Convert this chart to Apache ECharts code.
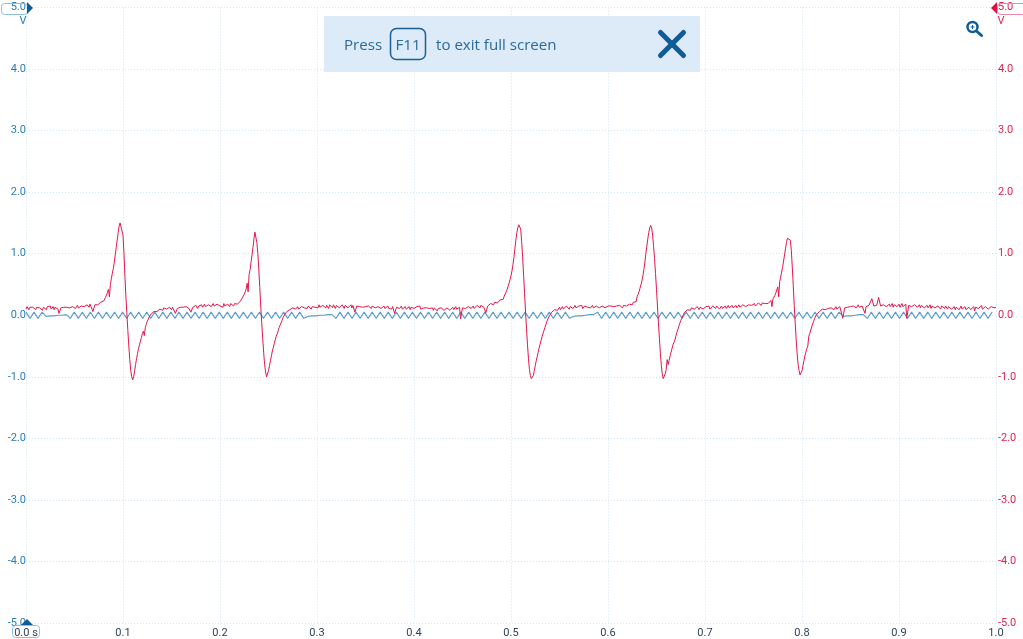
<!DOCTYPE html>
<html>
<head>
<meta charset="utf-8">
<style>html,body{margin:0;padding:0;background:#fff}#c{width:1023px;height:639px}</style>
<script src="https://cdn.jsdelivr.net/npm/echarts@6/dist/echarts.min.js"></script>
</head>
<body>
<div id="c"></div>
<script>
const timeTicks = ['0.0 s','0.1','0.2','0.3','0.4','0.5','0.6','0.7','0.8','0.9','1.0'];
const redStep = 0.001;
const redV = [
.10,.14,.12,.09,.13,.15,.11,.13,.10,.14,
.09,.13,.15,.10,.12,.14,.11,.08,.13,.15,
.12,.09,.14,.11,.13,.15,.10,.12,.14,.09,
.13,.11,.15,.10,.03,.02,.12,.14,.10,.13,
.14,.10,.13,.15,.11,.12,.15,.10,.14,.12,
.15,.11,.13,.16,.12,.14,.11,.15,.13,.16,
.14,.16,.13,.17,.15,.13,.18,.14,.17,.06,
.05,.17,.15,.19,.17,.20,.18,.21,.19,.22,
.23,.26,.29,.33,.37,.42,.30,.50,.60,.68,
.76,.86,.98,1.10,1.22,1.34,1.45,1.50,1.52,1.47,
1.30,1.0,.62,.30,.02,-.25,-.50,-.72,-.90,-1.0,
-1.05,-1.0,-.90,-.80,-.70,-.62,-.54,-.48,-.42,-.36,
-.30,-.26,-.33,-.20,-.15,-.10,-.07,-.03,0,.02,
.04,.02,.06,.05,.08,.06,.09,.07,.10,.08,
.11,.08,.12,.09,.13,.10,.12,.08,.13,.11,
.09,.13,.10,.14,.03,.02,.11,.14,.10,.13,
.14,.10,.13,.15,.11,.14,.12,.15,.11,.13,
.05,.04,.13,.15,.12,.16,.13,.11,.15,.12,
.14,.17,.13,.15,.18,.14,.16,.13,.17,.15,
.18,.14,.16,.19,.15,.17,.14,.18,.16,.19,
.15,.18,.16,.13,.19,.15,.17,.14,.18,.16,
.14,.19,.16,.18,.15,.19,.17,.20,.18,.21,
.20,.23,.25,.28,.31,.34,.38,.43,.52,.38,
.66,.74,.86,.98,1.10,1.24,1.35,1.32,1.18,1.00,
.75,.45,.15,-.12,-.38,-.60,-.80,-.92,-1.0,-.98,
-.90,-.82,-.74,-.66,-.58,-.52,-.46,-.40,-.34,-.30,
-.25,-.20,-.16,-.12,-.08,-.04,-.01,.02,.04,.06,
.08,.06,.09,.11,.08,.12,.09,.13,.10,.12,
.14,.10,.13,.09,.14,.11,.15,.12,.10,.14,
.11,.15,.12,.16,.10,.14,.12,.16,.13,.11,
.15,.12,.17,.13,.15,.11,.16,.13,.17,.12,
.16,.13,.11,.17,.14,.16,.12,.17,.14,.11,
.16,.13,.17,.12,.15,.13,.17,.14,.11,.16,
.13,.17,.12,.15,.14,.17,.12,.16,.14,.05,
.04,.15,.12,.16,.14,.11,.16,.13,.15,.12,
.14,.16,.12,.15,.13,.16,.11,.15,.13,.14,
.12,.15,.11,.14,.13,.16,.11,.14,.12,.15,
.11,.14,.12,.15,.11,.14,.13,.10,.14,.12,
.03,.02,.13,.10,.14,.11,.13,.15,.10,.13,
.11,.14,.10,.13,.11,.14,.09,.13,.11,.14,
.11,.13,.09,.14,.11,.12,.15,.10,.13,.09,
.12,.14,.10,.12,.09,.13,.11,.14,.10,.12,
.08,.12,.10,.13,.07,.11,.13,.09,.12,.10,
.13,.08,.11,.09,.12,.10,.13,.08,.11,.09,
.13,.09,.11,.14,.10,.12,.09,.13,-.06,-.04,
.12,.09,.14,.11,.13,.10,.14,.12,.15,.11,
.13,.15,.11,.14,.12,.16,.13,.15,.12,.16,
.14,.17,.13,.16,.04,.03,.15,.18,.15,.19,
.16,.19,.17,.21,.18,.22,.20,.23,.21,.25,
.24,.28,.26,.31,.34,.38,.42,.47,.52,.58,
.64,.72,.82,.94,1.08,1.22,1.34,1.42,1.47,1.48,
1.40,1.20,.95,.65,.35,.05,-.22,-.48,-.70,-.88,
-.98,-1.03,-1.05,-.98,-.90,-.82,-.74,-.67,-.60,-.53,
-.47,-.41,-.35,-.30,-.25,-.20,-.15,-.10,-.06,-.03,
0,.02,.05,.03,.07,.09,.07,.10,.08,.11,
.13,.09,.12,.14,.10,.13,.11,.15,.12,.14,
.10,.14,.12,.15,.11,.13,.16,.12,.14,.11,
.15,.12,.14,.16,.11,.13,.15,.12,.16,.13,
.11,.15,.12,.14,.16,.12,.14,.11,.15,.13,
.16,.12,.14,.11,.15,.13,.16,.12,.15,.13,
.15,.17,.13,.15,.12,.16,.14,.17,.13,.15,
.17,.13,.16,.14,.18,.12,.16,.14,.18,.15,
.17,.14,.18,.16,.20,.17,.21,.19,.24,.22,
.30,.34,.38,.44,.50,.56,.64,.74,.86,1.00,
1.12,1.24,1.34,1.42,1.46,1.42,1.30,1.12,.92,.68,
.42,.15,-.12,-.38,-.62,-.82,-.96,-1.03,-1.02,-.95,
-.88,-.72,-.80,-.74,-.66,-.60,-.54,-.48,-.44,-.40,
-.34,-.28,-.23,-.18,-.13,-.09,-.05,-.01,.02,.05,
.07,.05,.09,.06,.11,.08,.12,.09,.13,.10,
.13,.10,.14,.11,.09,.13,.11,.14,.10,.13,
.10,.14,.11,.13,.15,.10,.13,.11,.15,.12,
.14,.11,.15,.12,.14,.10,.13,.15,.11,.14,
.12,.15,.11,.14,.16,.12,.15,.13,.16,.12,
.15,.13,.16,.12,.15,.17,.13,.16,.14,.17,
.15,.18,.14,.16,.13,.17,.15,.18,.16,.14,
.17,.19,.15,.18,.16,.20,.17,.19,.16,.20,
.18,.21,.19,.17,.21,.19,.22,.20,.24,.14,
.26,.28,.32,.36,.41,.46,.30,.55,.62,.70,
.78,.88,.98,1.08,1.18,1.25,1.28,1.27,1.22,1.05,
.78,.48,.16,-.12,-.40,-.62,-.80,-.90,-.97,-.95,
-.90,-.82,-.74,-.66,-.60,-.54,-.50,-.34,-.30,-.24,
-.19,-.14,-.10,-.05,-.02,.01,.04,.03,.06,.08,
.06,.10,.08,.11,.09,.12,.08,.11,.13,.09,
.12,.10,.13,.09,.12,.14,.10,.13,.11,.14,
.11,.13,-.05,-.04,.12,.15,.11,.13,.15,.12,
.14,.16,.12,.15,.13,.16,.12,.15,.17,.13,
.16,.13,.15,.17,.12,.03,.14,.17,.13,.16,
.14,.18,.27,.26,.15,.17,.13,.16,.14,.29,
.28,.15,.18,.14,.17,.15,.19,.14,.17,.15,
.18,.14,.16,.19,.13,.17,.15,.18,.14,.16,
.18,.13,.16,.19,.14,.17,.15,.18,-.05,-.04,
.16,.13,.18,.14,.16,.12,.17,.15,.18,.13,
.15,.17,.12,.16,.14,.17,.12,.15,.13,.16,
.12,.14,.17,.11,.15,.13,.16,.12,.14,.11,
.15,.12,.14,.10,.15,.12,.14,.11,.15,.12,
.10,.14,.12,.15,.10,.13,.11,.14,.09,.13,
.11,.14,.09,.12,.15,.10,.13,.11,.14,.09,
.12,.10,.13,.15,.09,.12,.10,.14,.07,.13,
.10,.14,.11,.08,.13,.16,.10,.13,.09,.14,
.11,.15,.10,.13,.09,.14,.11,.15,.12,.14,
.13
];
const blueStep = 0.00415;
const blueV = [
.05,-.05,.05,-.05,.05,-.02,-.01,-.01,0,0,.01,-.05,
.05,-.05,.05,-.05,.05,-.05,.05,-.05,.05,-.05,.05,-.05,
.05,-.05,.05,-.05,.05,-.05,.05,-.05,.05,-.05,.05,-.05,
.05,-.05,.05,-.05,.05,-.05,.05,-.05,.05,-.05,.05,-.05,
.05,-.05,.05,-.05,.05,-.05,.05,-.05,.05,-.05,.05,-.05,
.05,-.05,.05,-.05,.05,-.05,.05,-.05,.05,-.05,-.02,-.01,
-.01,0,0,.01,.01,-.05,.05,-.05,.05,-.05,.05,-.05,
.05,-.05,.05,-.05,.05,-.05,.05,-.05,.05,-.05,.05,-.05,
.05,-.05,.05,-.05,.05,-.05,.05,-.05,.05,-.05,.05,-.05,
.05,-.05,.05,-.05,.05,-.05,.05,-.05,.05,-.05,.05,-.05,
.05,-.05,.05,-.05,.05,-.05,.05,-.05,.05,-.05,.05,-.05,
.05,-.05,.05,-.05,-.02,-.01,-.01,0,.01,.01,.05,-.05,
.05,-.05,.05,-.05,.05,-.05,.05,-.05,.05,-.05,.05,-.05,
.05,-.05,.05,-.05,.05,-.05,.05,-.05,.05,-.05,.05,-.05,
.05,-.05,.05,-.05,.05,-.05,.05,-.05,.05,-.05,.05,-.05,
.05,-.05,.05,-.05,.05,-.05,.05,-.05,.05,-.05,.05,-.05,
.05,-.05,.05,-.05,.05,-.05,.05,-.05,.05,-.05,.05,-.02,
-.01,-.01,0,.01,.01,-.05,.05,-.05,.05,-.05,.05,-.05,
.05,-.05,.05,-.05,.05,-.05,.05,-.05,.05,-.05,.05,-.05,
.05,-.05,.05,-.05,.05,-.05,.05,-.05,.05,-.05,.05,-.05,
.05
];
const redData = redV.map((v, i) => [i * redStep, v]);
const blueData = blueV.map((v, i) => [i * blueStep, v]);

const LEFT = 26, RIGHT = 996, TOP = 7.5, BOTTOM = 624.5;
const gridLine = { show: true, lineStyle: { color: '#cfe7f3', type: [1, 2], width: 1 } };
const chart = echarts.init(document.getElementById('c'), null, { renderer: 'canvas' });
const FONT = 'Roboto';
const bannerBlue = '#1b5f95';
chart.setOption({
  animation: false,
  backgroundColor: '#ffffff',
  grid: { left: LEFT, right: 1023 - RIGHT, top: TOP, bottom: 639 - BOTTOM },
  xAxis: {
    type: 'value', min: 0, max: 1, interval: 0.1,
    axisLine: { show: false }, axisTick: { show: false }, splitLine: gridLine,
    axisLabel: { margin: 5, fontFamily: FONT, fontSize: 11, color: '#2f4358', showMinLabel: true, showMaxLabel: true,
      formatter: (v) => timeTicks[Math.round(v * 10)] }
  },
  yAxis: [
    { type: 'value', min: -5, max: 5, interval: 1, position: 'left',
      axisLine: { show: false }, axisTick: { show: false }, splitLine: gridLine,
      axisLabel: { margin: 0, padding: [0, 0, 2, 0], fontFamily: FONT, fontSize: 11, color: '#2b7db5', formatter: (v) => v.toFixed(1) } },
    { type: 'value', min: -5, max: 5, interval: 1, position: 'right',
      axisLine: { show: false }, axisTick: { show: false }, splitLine: { show: false },
      axisLabel: { margin: 2, padding: [0, 0, 2, 0], fontFamily: FONT, fontSize: 11, color: '#e0234f', formatter: (v) => v.toFixed(1) } }
  ],
  series: [
    { type: 'line', yAxisIndex: 0, data: blueData, showSymbol: false, smooth: false, z: 3,
      lineStyle: { color: '#5a9ccb', width: 1.1 } },
    { type: 'line', yAxisIndex: 1, data: redData, showSymbol: false, smooth: false, z: 4,
      lineStyle: { color: '#e3164a', width: 1 } }
  ],
  graphic: [
    { type: 'rect', z: 1, shape: { x: 1.5, y: 3.5, width: 26, height: 11, r: 3 }, style: { fill: 'transparent', stroke: '#8fbfe0', lineWidth: 1 } },
    { type: 'polygon', z: 5, shape: { points: [[27, 2], [33, 8], [27, 14]] }, style: { fill: '#0f5c96' } },
    { type: 'text', z: 5, style: { x: 23, y: 16, text: 'V', fill: '#2b7db5', font: '11px Roboto', textAlign: 'center' } },
    { type: 'rect', z: 1, shape: { x: 997.5, y: 3.5, width: 30, height: 11, r: 3 }, style: { fill: 'transparent', stroke: '#f08aa4', lineWidth: 1 } },
    { type: 'polygon', z: 5, shape: { points: [[997, 2], [991, 8], [997, 14]] }, style: { fill: '#e0103f' } },
    { type: 'text', z: 5, style: { x: 1001, y: 16, text: 'V', fill: '#e0234f', font: '11px Roboto', textAlign: 'center' } },
    { type: 'rect', z: 1, shape: { x: 12.5, y: 625.5, width: 27, height: 12, r: 3 }, style: { fill: 'transparent', stroke: '#8fbfe0', lineWidth: 1 } },
    { type: 'polygon', z: 5, shape: { points: [[21, 625], [27, 619], [33, 625]] }, style: { fill: '#0f5c96' } },
    { type: 'rect', z: 10, shape: { x: 324, y: 16, width: 376, height: 56 }, style: { fill: 'rgba(218,232,246,0.93)' } },
    { type: 'text', z: 11, style: { x: 344, y: 38, text: 'Press', fill: '#2a6a9c', font: '15.1px "Open Sans"' } },
    { type: 'rect', z: 11, shape: { x: 390.5, y: 28.5, width: 35, height: 31, r: 6 }, style: { fill: 'transparent', stroke: bannerBlue, lineWidth: 1.5 } },
    { type: 'text', z: 11, style: { x: 408, y: 38, text: 'F11', fill: '#2a6a9c', font: '15.1px "Open Sans"', textAlign: 'center' } },
    { type: 'text', z: 11, style: { x: 436, y: 38, text: 'to exit full screen', fill: '#2a6a9c', font: '15.1px "Open Sans"' } },
    { type: 'line', z: 11, shape: { x1: 660.5, y1: 32.5, x2: 683.5, y2: 55.5 }, style: { stroke: '#0f5c96', lineWidth: 5, lineCap: 'round' } },
    { type: 'line', z: 11, shape: { x1: 683.5, y1: 32.5, x2: 660.5, y2: 55.5 }, style: { stroke: '#0f5c96', lineWidth: 5, lineCap: 'round' } },
    { type: 'circle', z: 11, shape: { cx: 972.5, cy: 27, r: 5 }, style: { fill: 'transparent', stroke: '#0f5c96', lineWidth: 2.5 } },
    { type: 'line', z: 11, shape: { x1: 977, y1: 31.5, x2: 981.5, y2: 35.5 }, style: { stroke: '#0f5c96', lineWidth: 3, lineCap: 'round' } },
    { type: 'line', z: 11, shape: { x1: 970.5, y1: 27, x2: 974.5, y2: 27 }, style: { stroke: '#0f5c96', lineWidth: 1 } },
    { type: 'line', z: 11, shape: { x1: 972.5, y1: 25, x2: 972.5, y2: 29 }, style: { stroke: '#0f5c96', lineWidth: 1 } }
  ]
});
</script>
</body>
</html>
